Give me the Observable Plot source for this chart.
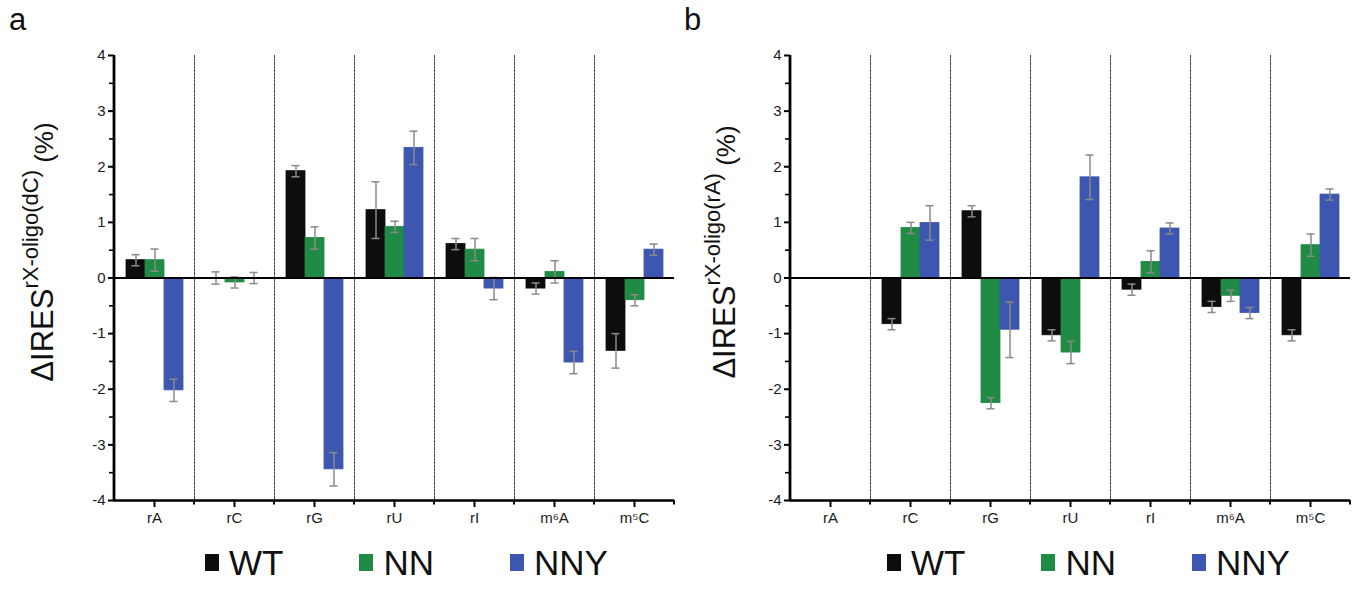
<!DOCTYPE html>
<html><head><meta charset="utf-8">
<script src="https://cdn.jsdelivr.net/npm/d3@7"></script>
<script src="https://cdn.jsdelivr.net/npm/@observablehq/plot@0.6"></script>
<style>
body{margin:0;background:#fff;font-family:"Liberation Sans",Arial,sans-serif;}
#wrap{position:relative;width:1361px;height:589px;overflow:hidden;background:#fff}
.panel{position:absolute;top:0}
.tag{position:absolute;top:2px;font-size:31px;color:#111;font-family:"Liberation Sans",Arial,sans-serif}
.legend{position:absolute;top:545px;display:flex;align-items:center;gap:76px}
.item{display:flex;align-items:center;gap:10px;font-size:35px;color:#111;line-height:1}
.sw{width:14px;height:17px;display:inline-block}
</style>
</head><body>
<div id="wrap"></div>
<script>
const categories = ["rA","rC","rG","rU","rI","m⁶A","m⁵C"];
const seriesNames = ["WT","NN","NNY"];
const seriesColors = ["#0d0d0d","#1f8b45","#3d57b0"];
const yTicks = [-4,-3,-2,-1,0,1,2,3,4];
const yMinorTicks = [-3.5,-2.5,-1.5,-0.5,0.5,1.5,2.5,3.5];

// Panel a: rX-oligo(dC)
const aWT     = [0.32, 0.00, 1.92, 1.22, 0.61, -0.19, -1.31];
const aWTerr  = [0.10, 0.11, 0.10, 0.51, 0.10, 0.10, 0.31];
const aNN     = [0.32, -0.08, 0.72, 0.92, 0.51, 0.11, -0.40];
const aNNerr  = [0.20, 0.10, 0.20, 0.10, 0.20, 0.20, 0.10];
const aNNY    = [-2.02, 0.00, -3.44, 2.34, -0.19, -1.52, 0.51];
const aNNYerr = [0.20, 0.10, 0.30, 0.30, 0.20, 0.20, 0.10];

// Panel b: rX-oligo(rA)
const bWT     = [null, -0.83, 1.20, -1.03, -0.21, -0.52, -1.03];
const bWTerr  = [null, 0.10, 0.10, 0.10, 0.10, 0.10, 0.10];
const bNN     = [null, 0.90, -2.25, -1.34, 0.29, -0.32, 0.59];
const bNNerr  = [null, 0.10, 0.10, 0.20, 0.20, 0.10, 0.20];
const bNNY    = [null, 0.99, -0.93, 1.81, 0.89, -0.63, 1.50];
const bNNYerr = [null, 0.31, 0.50, 0.40, 0.10, 0.10, 0.10];

function rowsOf(vals, errs) {
  const rows = [];
  categories.forEach((c, i) => {
    seriesNames.forEach((s, j) => {
      if (vals[j][i] != null) rows.push({cat: c, series: s, value: vals[j][i], err: errs[j][i]});
    });
  });
  return rows;
}

const wrap = document.getElementById("wrap");

function panel(rows, opts) {
  const errColor = "#8a8a8a";
  const svg = Plot.plot({
    width: opts.width, height: 530,
    marginLeft: opts.marginLeft, marginRight: opts.marginRight,
    marginTop: 55, marginBottom: 30,
    style: {fontFamily: "'Liberation Sans', Arial, sans-serif", background: "transparent", color: "#1a1a1a"},
    fx: {domain: categories, padding: 0},
    x: {domain: seriesNames, type: "band", paddingInner: 0, paddingOuter: 0.6, axis: null},
    y: {domain: [-4, 4]},
    color: {domain: seriesNames, range: seriesColors},
    marks: [
      Plot.frame({anchor: "left", stroke: "#444", strokeWidth: 1, strokeDasharray: "2,1.5"}),
      Plot.barY(rows, {fx: "cat", x: "series", y: "value", fill: "series", stroke: "series", strokeWidth: 0.8, inset: 0}),
      Plot.ruleX(rows, {fx: "cat", x: "series", y1: d => d.value - d.err, y2: d => d.value + d.err, stroke: errColor, strokeWidth: 1.5}),
      Plot.tickY(rows, {fx: "cat", x: "series", y: d => d.value + d.err, stroke: errColor, strokeWidth: 1.5, insetLeft: 5.5, insetRight: 5.5}),
      Plot.tickY(rows, {fx: "cat", x: "series", y: d => d.value - d.err, stroke: errColor, strokeWidth: 1.5, insetLeft: 5.5, insetRight: 5.5}),
      Plot.ruleY(categories, {fx: d => d, y: d => 0, stroke: "#000", strokeWidth: 2}),
      Plot.ruleY(categories, {fx: d => d, y: d => -4, stroke: "#000", strokeWidth: 2.6}),
      Plot.axisY({ticks: yTicks, tickSize: 6, tickPadding: 3, stroke: "#000", strokeWidth: 2, fontSize: 15, fill: "#1a1a1a", label: null, tickFormat: d => d}),
      Plot.axisY({ticks: yMinorTicks, tickSize: 5, stroke: "#000", strokeWidth: 1.6, tickFormat: () => "", label: null}),
      Plot.axisFx({anchor: "bottom", tickSize: 7, tickPadding: 5, fontSize: 15, fill: "#1a1a1a", stroke: "#000", label: null, strokeWidth: 2})
    ]
  });
  svg.classList.add("panel");
  svg.style.left = opts.left + "px";
  wrap.appendChild(svg);

  const sel = d3.select(svg);
  // solid y-axis line, from the plot's own y and fx scales
  const ys = svg.scale("y");
  const fxs = svg.scale("fx");
  const x0 = fxs.apply(categories[0]);
  sel.append("line")
    .attr("x1", x0).attr("x2", x0)
    .attr("y1", ys.apply(-4) + 1.3).attr("y2", ys.apply(4))
    .attr("stroke", "#000").attr("stroke-width", 2.8);
  // short ticks at the category boundaries on the x axis
  const bounds = categories.slice(1).map(c => fxs.apply(c));
  bounds.push(fxs.apply(categories[categories.length - 1]) + fxs.bandwidth);
  sel.append("g").attr("stroke", "#000").attr("stroke-width", 2)
    .selectAll("line").data(bounds).join("line")
    .attr("x1", d => d).attr("x2", d => d)
    .attr("y1", ys.apply(-4)).attr("y2", ys.apply(-4) + 4.5);

  // y-axis label with superscript
  const t = sel.append("text")
    .attr("transform", `translate(${opts.labelX},252) rotate(-90)`)
    .attr("text-anchor", "middle")
    .attr("fill", "#111")
    .style("font-family", "'Liberation Sans', Arial, sans-serif");
  t.append("tspan").attr("font-size", 31).text("ΔIRES");
  t.append("tspan").attr("font-size", 22).attr("dy", -15).text(opts.sup);
  t.append("tspan").attr("font-size", 26).attr("dy", 15).text(" (%)");

  // panel tag
  const tag = document.createElement("div");
  tag.className = "tag";
  tag.style.left = opts.tagX + "px";
  tag.textContent = opts.tag;
  wrap.appendChild(tag);

  // legend
  const lg = document.createElement("div");
  lg.className = "legend";
  lg.style.left = opts.legendX + "px";
  seriesNames.forEach((s, i) => {
    const it = document.createElement("div");
    it.className = "item";
    const sw = document.createElement("span");
    sw.className = "sw";
    sw.style.background = seriesColors[i];
    const tx = document.createElement("span");
    tx.textContent = s;
    it.appendChild(sw); it.appendChild(tx);
    lg.appendChild(it);
  });
  wrap.appendChild(lg);
}

panel(rowsOf([aWT, aNN, aNNY], [aWTerr, aNNerr, aNNYerr]),
  {width: 680, left: 0, marginLeft: 111, marginRight: 4, labelX: 53, sup: "rX-oligo(dC)", tag: "a", tagX: 9, legendX: 205});
panel(rowsOf([bWT, bNN, bNNY], [bWTerr, bNNerr, bNNYerr]),
  {width: 681, left: 680, marginLeft: 107, marginRight: 9, labelX: 55, sup: "rX-oligo(rA)", tag: "b", tagX: 684, legendX: 887});
</script>
</body></html>
